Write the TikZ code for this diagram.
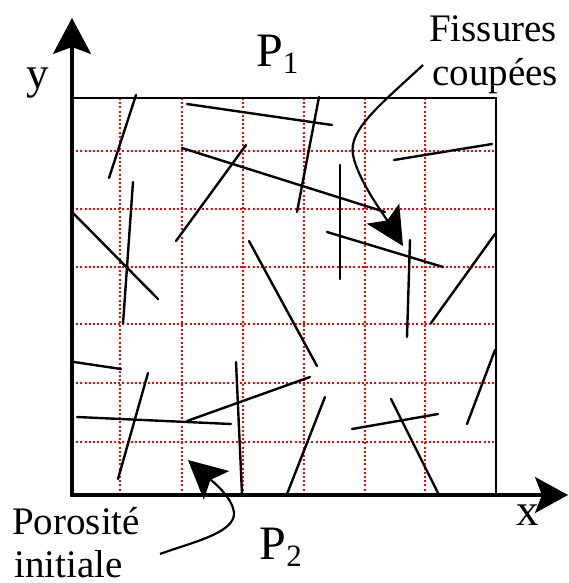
\documentclass[tikz,border=0pt]{standalone}
\usepackage{fontspec}
\setmainfont{Liberation Serif}
\usetikzlibrary{arrows.meta}

\tikzset{
  grille/.style={red, line width=2.2pt, dash pattern=on 2pt off 2.2pt},
  cadre/.style={line width=2.4pt},
  fissure/.style={line width=2.4pt, line cap=round},
  axe/.style={line width=3.4pt, {Stealth[length=36pt,width=38pt,inset=7pt]}-{Stealth[length=33pt,width=36pt,inset=7pt]}},
  fleche/.style={line width=2.2pt, -{Stealth[length=38pt,width=38pt,inset=8pt]}},
  texte/.style={inner sep=0pt, anchor=base west, font=\fontsize{39}{44}\selectfont},
  lettre/.style={inner sep=0pt, anchor=base west, font=\fontsize{45}{50}\selectfont},
  pression/.style={inner sep=0pt, anchor=base west, font=\fontsize{48}{50}\selectfont},
}
\newcommand{\indice}[2]{#1\raisebox{-7.5pt}{\fontsize{31}{31}\selectfont #2}}

\begin{document}
\begin{tikzpicture}[x=1pt,y=-1pt]
  \useasboundingbox (0,0) rectangle (569,583);
  % grille de la porosite initiale
  \foreach \gx in {120,182,243,304,365,425}
    \draw[grille] (\gx,98) -- (\gx,495);
  \foreach \gy in {151,209,267,324,383,442}
    \draw[grille] (72,\gy) -- (496,\gy);
  \draw[cadre] (72,98) rectangle (496,495);
  % fissures
  \foreach \p/\q in {{136,95}/{109,178}, {187,104}/{332,125}, {182,148}/{385,212},
      {246,145}/{176,241}, {133,182}/{123,324}, {72,212}/{158,299},
      {249,241}/{317,366}, {319,97}/{297,212}, {340,165}/{340,279},
      {394,160}/{492,144}, {327,232}/{443,267}, {410,240}/{407,337},
      {495,234}/{431,323}, {74,362}/{121,369}, {148,373}/{118,479},
      {77,417}/{231,424}, {187,421}/{310,377}, {236,362}/{242,494},
      {325,397}/{287,494}, {352,429}/{438,414}, {391,399}/{438,493},
      {495,350}/{467,424}}
    \draw[fissure] (\p) -- (\q);
  % axes
  \coordinate (O) at (72,495);
  \coordinate (ytip) at (72,18);
  \coordinate (xtip) at (568,495);
  \draw[axe] (ytip) -- (O) -- (xtip);
  \node[lettre] (ylab) at (26.5,89) {y};
  \node[lettre] (xlab) at (516,525) {x};
  \node[pression] (P1) at (256,66.5) {\indice{P}{1}};
  \node[pression] (P2) at (259.5,559) {\indice{P}{2}};
  % legendes
  \node[texte] (fissures) at (429,42) {Fissures};
  \node[texte] (coupees) at (432,86) {coupées};
  \node[texte] (porosite) at (12,534) {Porosité};
  \node[texte] (initiale) at (14,577) {initiale};
  \coordinate (f0) at (423,65);
  \coordinate (f1) at (403,246);
  \draw[fleche] (f0) .. controls (380,105) and (348,130) .. (353,155)
    .. controls (358,180) and (382,212) .. (f1);
  \coordinate (p0) at (160,554);
  \coordinate (p1) at (188,460);
  \draw[fleche] (p0) .. controls (192,542) and (242,532) .. (233,508)
    .. controls (228,492) and (206,476) .. (p1);
\end{tikzpicture}
\end{document}
